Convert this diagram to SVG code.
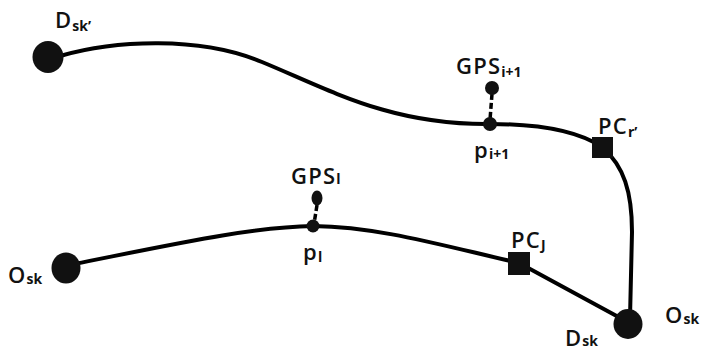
<svg xmlns="http://www.w3.org/2000/svg" width="702" height="353" viewBox="0 0 702 353">
  <style>
    .route { fill: none; stroke: #000; stroke-width: 4; stroke-linecap: round; stroke-linejoin: round; }
    .probe { fill: none; stroke: #000; stroke-width: 3.5; stroke-dasharray: 6 3; }
    .lbl { font-family: "Open Sans", "Liberation Sans", sans-serif; font-weight: 600; font-size: 22px; letter-spacing: 1.2px; fill: #111; }
    .sub { font-size: 14px; font-weight: 700; letter-spacing: 0; }
    .ink { fill: #111; }
  </style>

  <!-- routes -->
  <g id="connectors">
    <path class="route" d="M 60,56 C 115,40 200,36 262,62 C 330,90 390,125 490,124 C 540,124 578,131 602,147"/>
    <path class="route" d="M 602,147 C 624,166 632,192 632,232 L 630,318"/>
    <path class="route" d="M 74,264 C 170,245 250,227 313,226 C 380,227 440,245 519,263"/>
    <path class="route" d="M 519,263 L 624,320"/>
    <path class="probe" d="M 492,94 L 490,120"/>
    <path class="probe" d="M 317,205 L 314,224"/>
  </g>

  <g id="D_skp">
    <ellipse class="ink" cx="48" cy="57" rx="15.5" ry="16"/>
    <text class="lbl" x="55" y="28">D<tspan class="sub" dy="3">sk’</tspan></text>
  </g>

  <g id="GPS_i1">
    <circle class="ink" cx="492" cy="88" r="7"/>
    <text class="lbl" x="456" y="74">GPS<tspan class="sub" dy="3">i+1</tspan></text>
  </g>

  <g id="p_i1">
    <circle class="ink" cx="490" cy="124" r="7"/>
    <text class="lbl" x="474" y="158">p<tspan class="sub" dy="1">i+1</tspan></text>
  </g>

  <g id="PC_rp">
    <rect class="ink" x="592" y="137" width="21" height="21"/>
    <text class="lbl" x="598" y="134">PC<tspan class="sub" dy="3">r’</tspan></text>
  </g>

  <g id="O_sk_left">
    <ellipse class="ink" cx="66" cy="268" rx="14.5" ry="15.5"/>
    <text class="lbl" x="8" y="283">O<tspan class="sub" dy="1">sk</tspan></text>
  </g>

  <g id="GPS_l">
    <ellipse class="ink" cx="317" cy="198" rx="5.5" ry="7.5"/>
    <text class="lbl" x="291" y="184">GPS<tspan class="sub" dy="0">l</tspan></text>
  </g>

  <g id="p_l">
    <circle class="ink" cx="313" cy="226" r="6.5"/>
    <text class="lbl" x="303" y="260">p<tspan class="sub" dy="2">l</tspan></text>
  </g>

  <g id="PC_j">
    <rect class="ink" x="508" y="252" width="22" height="23"/>
    <text class="lbl" x="511" y="248">PC<tspan class="sub" dy="2">J</tspan></text>
  </g>

  <g id="D_sk_O_sk">
    <ellipse class="ink" cx="628" cy="324" rx="14.5" ry="15"/>
    <text class="lbl" x="665" y="323">O<tspan class="sub" dy="1">sk</tspan></text>
    <text class="lbl" x="565" y="346">D<tspan class="sub" dy="0">sk</tspan></text>
  </g>
</svg>
